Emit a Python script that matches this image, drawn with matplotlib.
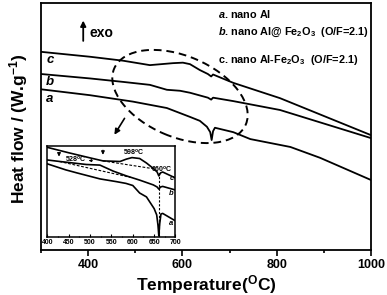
import matplotlib
matplotlib.use("Agg")
import matplotlib.pyplot as plt
from matplotlib.patches import Ellipse
from matplotlib.ticker import MultipleLocator

plt.rcParams['font.family'] = 'Liberation Sans'
plt.rcParams['font.weight'] = 'bold'
plt.rcParams['mathtext.fontset'] = 'custom'
plt.rcParams['mathtext.rm'] = 'Liberation Sans:bold'
plt.rcParams['mathtext.bf'] = 'Liberation Sans:bold'
plt.rcParams['mathtext.it'] = 'Liberation Sans:bold:italic'
plt.rcParams['mathtext.default'] = 'bf'

# main DSC curves (arbitrary heat-flow units)
T_c = [300, 404, 474, 531, 580, 601, 616, 637, 654, 661, 665, 708, 807, 1000]
hf_c = [4.01, 3.91, 3.83, 3.74, 3.78, 3.79, 3.76, 3.64, 3.56, 3.51, 3.55, 3.38, 3.07, 2.32]
T_b = [300, 404, 474, 531, 567, 595, 616, 654, 661, 665, 708, 807, 1000]
hf_b = [3.56, 3.47, 3.40, 3.34, 3.24, 3.22, 3.18, 3.08, 3.04, 3.08, 3.01, 2.83, 2.26]
T_a = [300, 404, 474, 495, 567, 616, 637, 652, 659, 662, 665, 669, 708, 744, 829, 892, 1000]
hf_a = [3.25, 3.13, 3.03, 3.00, 2.87, 2.69, 2.61, 2.49, 2.38, 2.22, 2.40, 2.47, 2.38, 2.24, 2.08, 1.86, 1.41]

# inset (400-700 C zoom)
Ti_c = [400, 450, 500, 530, 570, 585, 598, 616, 632, 647, 657, 661, 665, 670, 700]
hi_c = [2.97, 2.79, 2.62, 2.52, 2.50, 2.58, 2.63, 2.60, 2.45, 2.28, 2.15, 2.02, 2.12, 2.15, 1.95]
Ti_b = [400, 429, 491, 523, 554, 585, 616, 648, 657, 661, 665, 670, 700]
hi_b = [2.55, 2.50, 2.40, 2.38, 2.18, 2.02, 1.88, 1.72, 1.65, 1.58, 1.65, 1.67, 1.55]
Ti_a = [400, 443, 469, 523, 561, 584, 600, 616, 632, 650, 656, 659, 661, 663, 666, 670, 700]
hi_a = [2.42, 2.22, 2.12, 1.92, 1.83, 1.77, 1.70, 1.45, 1.32, 0.93, 0.72, 0.38, 0.02, 0.42, 0.75, 0.77, 0.52]

base_c_T, base_c_h = [530, 648], [2.52, 2.26]
base_b_T, base_b_h = [428, 595], [2.50, 1.97]
peak_T = 661

legend_lines = [r'$\mathit{a}$. nano Al',
                r'$\mathit{b}$. nano Al@ Fe$_2$O$_3$  (O/F=2.1)',
                r'c. nano Al-Fe$_2$O$_3$  (O/F=2.1)']

fig = plt.figure(figsize=(3.87, 2.95), dpi=100)
ax = fig.add_axes([0.1059, 0.1542, 0.8527, 0.8356])

lw = 1.3
ax.plot(T_c, hf_c, color='k', lw=lw)
ax.plot(T_b, hf_b, color='k', lw=lw)
ax.plot(T_a, hf_a, color='k', lw=lw)

ax.set_xlim(300, 1000)
ax.set_ylim(0, 5)
ax.set_xticks([400, 600, 800, 1000])
ax.xaxis.set_minor_locator(MultipleLocator(100))
ax.set_yticks([])
ax.tick_params(axis='x', which='major', direction='out', length=4, width=1.2,
               labelsize=9, pad=3)
ax.tick_params(axis='x', which='minor', direction='out', length=2.5, width=1.2)
for s in ax.spines.values():
    s.set_linewidth(1.3)

fig.text(206.5 / 387, 1 - 290 / 295, r'Temperature($^{\mathbf{O}}$C)',
         ha='center', va='baseline', fontsize=12.5, fontweight='bold')
fig.text(19 / 387, 1 - 129 / 295, r'Heat flow / (W.g$^{-1}$)', rotation=90,
         ha='center', va='center', fontsize=12.5, fontweight='bold')

# legend text
for t, yy in zip(legend_lines, [0.955, 0.8795, 0.769]):
    ax.text(0.536, yy, t, transform=ax.transAxes,
            ha='left', va='center', fontsize=7.8, fontweight='bold')

# curve labels
for lab, yy in zip(['c', 'b', 'a'], [0.767, 0.68, 0.6105]):
    ax.text(0.027, yy, lab, transform=ax.transAxes, ha='center', va='center',
            fontsize=9.5, fontstyle='italic', fontweight='bold')

# exo arrow
ax.annotate('', xy=(0.128, 0.94), xytext=(0.128, 0.835), xycoords='axes fraction',
            arrowprops=dict(arrowstyle='-|>', color='k', lw=1.3, mutation_scale=8))
ax.text(0.148, 0.877, 'exo', transform=ax.transAxes, ha='left', va='center',
        fontsize=10, fontweight='bold')

# dashed ellipse around the melting region
ell = Ellipse((1.80, 1.985), 1.43, 0.81, angle=-23, fill=False, ls=(0, (4, 2.5)),
              lw=1.4, color='k', transform=fig.dpi_scale_trans)
fig.patches.append(ell)
ax.annotate('', xy=(0.218, 0.456), xytext=(0.2576, 0.5416), xycoords='axes fraction',
            arrowprops=dict(arrowstyle='-|>', color='k', lw=1.2, mutation_scale=8))

# inset
axi = fig.add_axes([0.1227, 0.1983, 0.3307, 0.3051])
axi.plot(Ti_c, hi_c, color='k', lw=1.2)
axi.plot(Ti_b, hi_b, color='k', lw=1.2)
axi.plot(Ti_a, hi_a, color='k', lw=1.2)
axi.plot(base_c_T, base_c_h, color='k', lw=0.8, ls=(0, (2.5, 1.5)))
axi.plot(base_b_T, base_b_h, color='k', lw=0.8, ls=(0, (2.5, 1.5)))
axi.plot([peak_T, peak_T], [0, 2.15], color='k', lw=0.8, ls=(0, (2, 1.5)))
axi.set_xlim(400, 700)
axi.set_ylim(0, 3)
axi.set_xticks(range(400, 701, 50))
axi.xaxis.set_minor_locator(MultipleLocator(25))
axi.set_yticks([])
axi.tick_params(axis='x', which='major', direction='in', length=2, width=0.8,
                labelsize=5, pad=1.5)
axi.tick_params(axis='x', which='minor', direction='in', length=1, width=0.8)
for s in axi.spines.values():
    s.set_linewidth(1.1)

axi.text(603, 2.80, r'598$^{\mathrm{o}}$C', ha='center', va='center', fontsize=5)
axi.text(669, 2.25, r'660$^{\mathrm{o}}$C', ha='center', va='center', fontsize=5)
axi.text(467, 2.57, r'528$^{\mathrm{o}}$C', ha='center', va='center', fontsize=5)
axi.annotate('', xy=(490, 2.53), xytext=(512, 2.53),
             arrowprops=dict(arrowstyle='-|>', color='k', lw=0.6, mutation_scale=4))
axi.annotate('', xy=(427, 2.57), xytext=(427, 2.88),
             arrowprops=dict(arrowstyle='-|>', color='k', lw=0.8, mutation_scale=5))
axi.annotate('', xy=(530, 2.63), xytext=(530, 2.97),
             arrowprops=dict(arrowstyle='-|>', color='k', lw=0.8, mutation_scale=5))
for lab, yy in zip(['c', 'b', 'a'], [1.92, 1.43, 0.42]):
    axi.text(690.6, yy, lab, ha='center', va='center', fontsize=5.5,
             fontstyle='italic')

fig.savefig('out.png', dpi=100)
